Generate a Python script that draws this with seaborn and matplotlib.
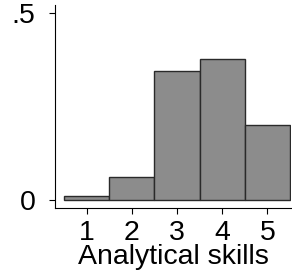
import matplotlib
matplotlib.use("Agg")
import matplotlib.pyplot as plt
import seaborn as sns
import pandas as pd

levels = [1, 2, 3, 4, 5]
density = [0.011, 0.062, 0.344, 0.376, 0.200]
xtick_labels = ["1", "2", "3", "4", "5"]
ytick_vals = [0, 0.5]
ytick_labels = ["0", ".5"]

sns.set_style("white")
plt.rcParams['font.family'] = ['Liberation Sans', 'DejaVu Sans']

df = pd.DataFrame({"skill": levels, "density": density})

fig = plt.figure(figsize=(2.92, 2.74), dpi=100)
ax = fig.add_axes([55/292, 66/274, 236/292, 203/274])
sns.histplot(data=df, x="skill", weights="density", discrete=True, stat="count",
             color="#8c8c8c", edgecolor="#2a2a2a", linewidth=1.0, alpha=1, ax=ax)

ax.set_xlim(0.30, 5.52)
ax.set_ylim(-0.021, 0.521)
ax.set_xticks(levels)
ax.set_xticklabels(xtick_labels)
ax.set_yticks(ytick_vals)
ax.set_yticklabels(ytick_labels)
ax.set_xlabel("Analytical skills", fontsize=20.5, labelpad=-2, color="black")
ax.set_ylabel("")
for s in ["top", "right"]:
    ax.spines[s].set_visible(False)
for s in ["left", "bottom"]:
    ax.spines[s].set_color("black")
    ax.spines[s].set_linewidth(0.8)
ax.tick_params(axis="both", which="both", direction="out", length=4, width=0.8,
               colors="black", labelsize=20.5, bottom=True, left=True)
ax.tick_params(axis="x", pad=5)
ax.tick_params(axis="y", pad=10)
fig.savefig("out.png", dpi=100)
